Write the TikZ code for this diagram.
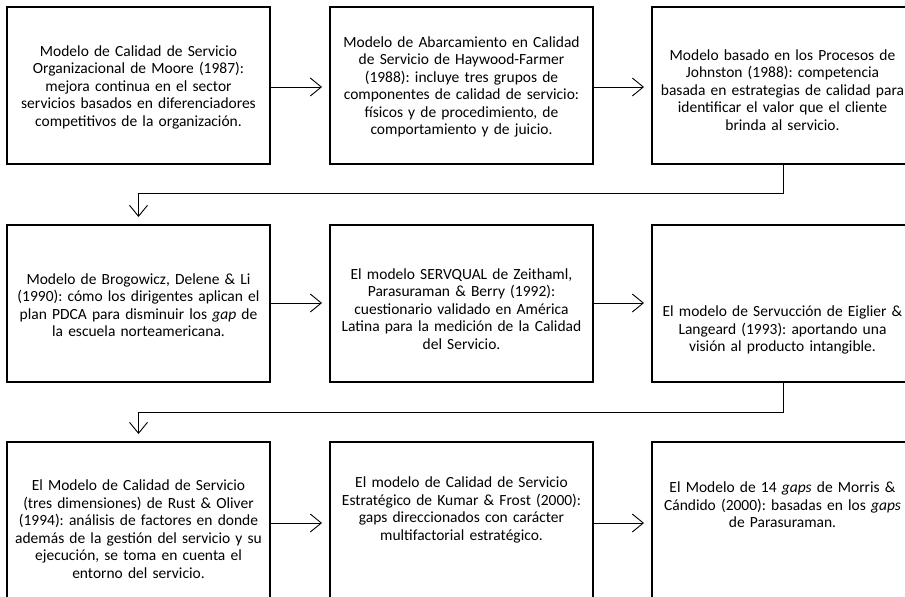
\documentclass[tikz,border=0pt]{standalone}
\usepackage{fontspec}
\setmainfont{Carlito}
\frenchspacing
\usetikzlibrary{arrows.meta}
\tikzset{
  box/.style={draw, line width=2.5pt, minimum width=263pt, minimum height=157pt, anchor=north west, inner sep=0pt, outer sep=0pt},
  txt/.style={align=center, text width=262pt, inner sep=0pt, font=\fontsize{15.5}{17.5}\selectfont},
  arr/.style={line width=0.9pt, -{Straight Barb[length=11pt,width=18pt,line width=0.9pt]}, shorten >=8pt}
}
\begin{document}
\begin{tikzpicture}[x=1pt,y=1pt]
\useasboundingbox (0,0) rectangle (905,-597);
\clip (0,0) rectangle (905,-597);
\fill[white] (0,0) rectangle (905,-597);
% boxes
\node[box] (b1) at (7,-7) {};
\node[box] (b2) at (330,-7) {};
\node[box] (b3) at (652,-7) {};
\node[box] (b4) at (7,-225) {};
\node[box] (b5) at (330,-225) {};
\node[box] (b6) at (652,-225) {};
\node[box] (b7) at (7,-442) {};
\node[box] (b8) at (330,-442) {};
\node[box] (b9) at (652,-442) {};
% texts
\node[txt] (t1) at (138.5,-87) {Modelo de Calidad de Servicio\\Organizacional de Moore (1987):\\mejora continua en el sector\\servicios basados en diferenciadores\\competitivos de la organización.};
\node[txt] (t2) at (461.5,-87) {Modelo de Abarcamiento en Calidad\\de Servicio de Haywood-Farmer\\(1988): incluye tres grupos de\\componentes de calidad de servicio:\\físicos y de procedimiento, de\\comportamiento y de juicio.};
\node[txt] (t3) at (782.5,-90) {Modelo basado en los Procesos de\\Johnston (1988): competencia\\basada en estrategias de calidad para\\identificar el valor que el cliente\\brinda al servicio.};
\node[txt] (t4) at (138.5,-305) {Modelo de Brogowicz, Delene \& Li\\(1990): cómo los dirigentes aplican el\\plan PDCA para disminuir los \textit{gap} de\\la escuela norteamericana.};
\node[txt] (t5) at (461.5,-309) {El modelo SERVQUAL de Zeithaml,\\Parasuraman \& Berry (1992):\\cuestionario validado en América\\Latina para la medición de la Calidad\\del Servicio.};
\node[txt] (t6) at (782.5,-330) {El modelo de Servucción de Eiglier \&\\Langeard (1993): aportando una\\visión al producto intangible.};
\node[txt] (t7) at (138.5,-529) {El Modelo de Calidad de Servicio\\(tres dimensiones) de Rust \& Oliver\\(1994): análisis de factores en donde\\además de la gestión del servicio y su\\ejecución, se toma en cuenta el\\entorno del servicio.};
\node[txt] (t8) at (461.5,-510) {El modelo de Calidad de Servicio\\Estratégico de Kumar \& Frost (2000):\\gaps direccionados con carácter\\multifactorial estratégico.};
\node[txt] (t9) at (782.5,-505) {El Modelo de 14 \textit{gaps} de Morris \&\\Cándido (2000): basadas en los \textit{gaps}\\de Parasuraman.};
% horizontal connectors
\draw[arr] (b1.east |- 0,-87) -- (b2.west |- 0,-87);
\draw[arr] (b2.east |- 0,-87) -- (b3.west |- 0,-87);
\draw[arr] (b4.east |- 0,-303) -- (b5.west |- 0,-303);
\draw[arr] (b5.east |- 0,-303) -- (b6.west |- 0,-303);
\draw[arr] (b7.east |- 0,-523) -- (b8.west |- 0,-523);
\draw[arr] (b8.east |- 0,-523) -- (b9.west |- 0,-523);
% elbow connectors
\coordinate (e1) at (783.5,-193);
\coordinate (e2) at (783.5,-412);
\draw[arr] (b3.south) -- (b3.south |- e1) -| (b4.north);
\draw[arr] (b6.south) -- (b6.south |- e2) -| (b7.north);
\end{tikzpicture}
\end{document}
